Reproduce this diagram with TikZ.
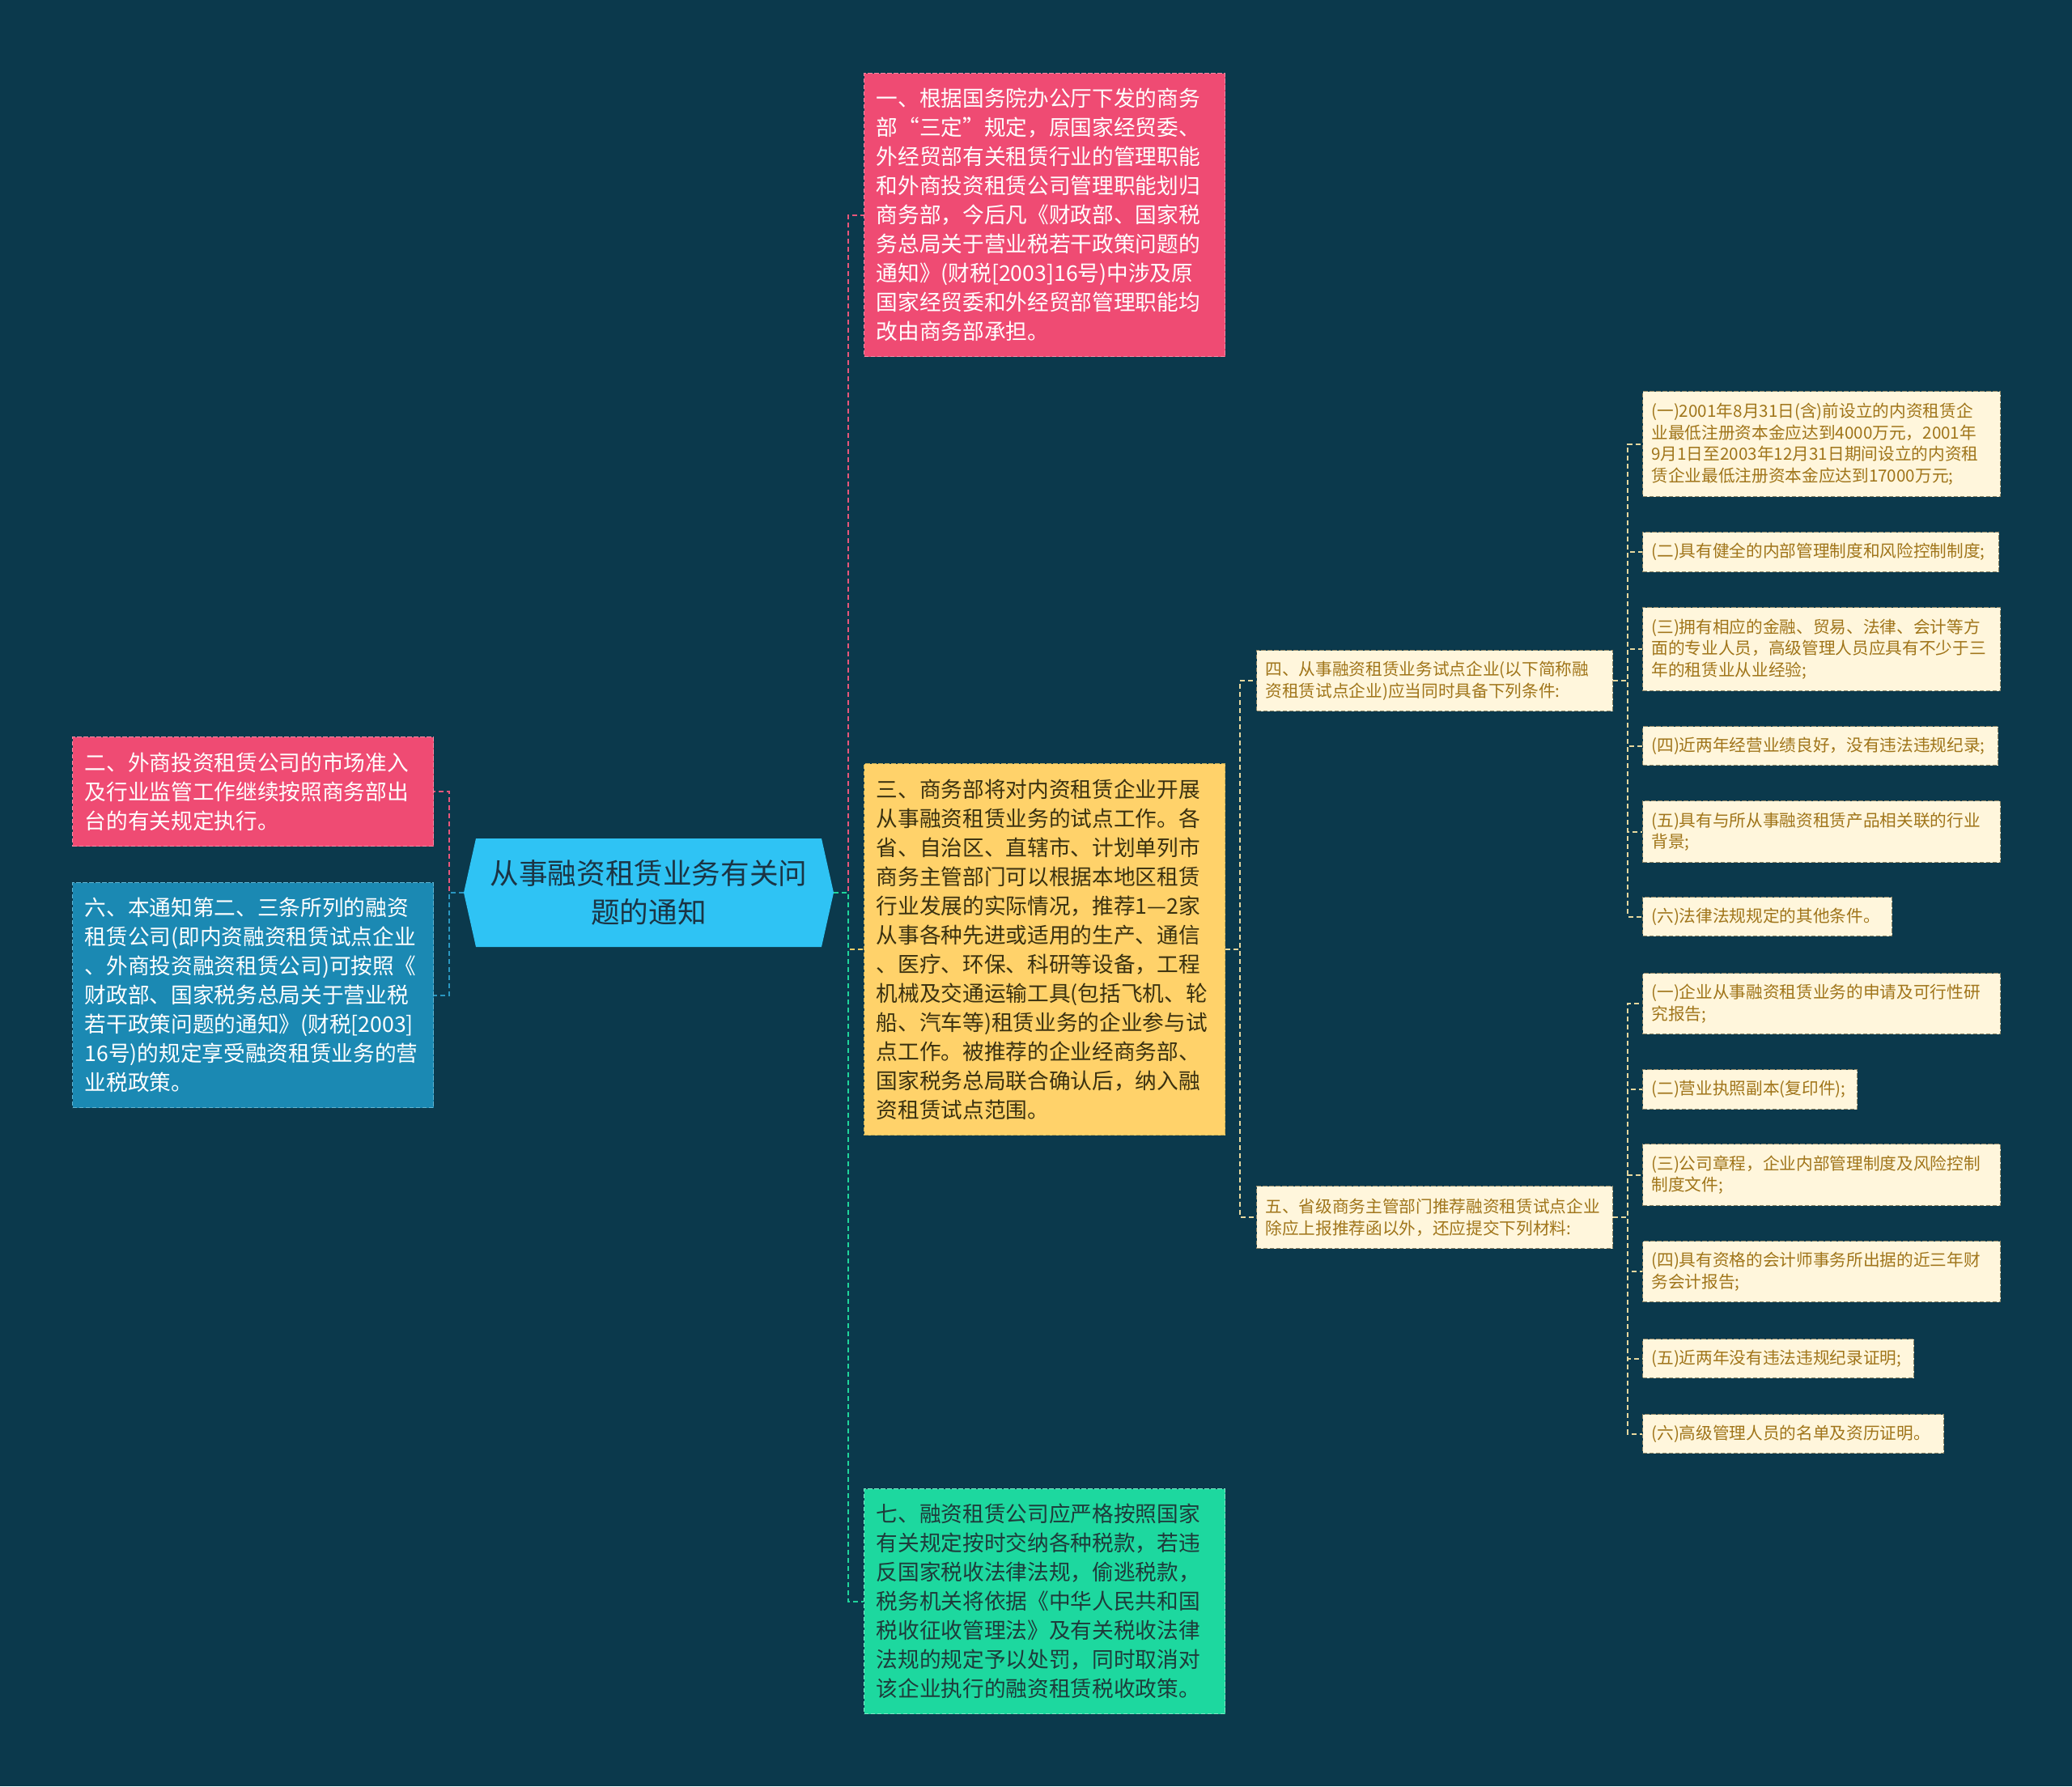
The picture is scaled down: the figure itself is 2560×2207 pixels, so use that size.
\documentclass[tikz,border=0pt]{standalone}
\usepackage{fontspec}
\setmainfont{Noto Sans CJK SC}
\newfontfamily\cjk{Noto Sans CJK SC}
\definecolor{bgc}{HTML}{0B394C}
\definecolor{pinkc}{HTML}{EF4B73}
\definecolor{pinkb}{HTML}{F68AA4}
\definecolor{bluec}{HTML}{1B89B3}
\definecolor{blueb}{HTML}{5DB4D3}
\definecolor{yelc}{HTML}{FFD26A}
\definecolor{yelb}{HTML}{C9AE55}
\definecolor{yeltext}{HTML}{3A3110}
\definecolor{grnc}{HTML}{1DD89F}
\definecolor{grnb}{HTML}{7FE8C6}
\definecolor{grntext}{HTML}{1E3B3A}
\definecolor{rootc}{HTML}{2FC3F4}
\definecolor{roottext}{HTML}{1B3444}
\definecolor{leafc}{HTML}{FFF6DC}
\definecolor{leafb}{HTML}{8E8566}
\definecolor{leaftext}{HTML}{A0751A}
\definecolor{pinkline}{HTML}{E8567A}
\definecolor{yelline}{HTML}{F2CC66}
\definecolor{grnline}{HTML}{1FD59B}
\definecolor{blueline}{HTML}{2A97C0}
\definecolor{leafline}{HTML}{E6D79E}
\tikzset{
  bx/.style={rectangle, draw, dash pattern=on 4pt off 2pt, line width=1pt, anchor=north west, align=left, inner ysep=2pt},
  big/.style={bx, font=\cjk\fontsize{20}{27}\selectfont, inner xsep=11.25pt},
  small/.style={bx, font=\cjk\fontsize{15.5}{20}\selectfont, inner xsep=8pt, fill=leafc, draw=leafb, text=leaftext},
  pinkbox/.style={big, fill=pinkc, draw=pinkb, text=white},
  bluebox/.style={big, fill=bluec, draw=blueb, text=white},
  yelbox/.style={big, fill=yelc, draw=yelb, text=yeltext},
  grnbox/.style={big, fill=grnc, draw=grnb, text=grntext},
  conn/.style={line width=1.5pt, dash pattern=on 4.5pt off 3pt},
  rootnode/.style={align=center, text=roottext, font=\cjk\fontsize{26.7}{36}\selectfont, inner sep=0pt}
}
\begin{document}
\begin{tikzpicture}[x=0.75pt,y=-0.75pt]
\fill[bgc] (0,0) rectangle (2560,2207);
\useasboundingbox (0,0) rectangle (2560,2207);

% root
\fill[rootc] (588,1036) -- (1015,1036) -- (1030,1103) -- (1015,1170) -- (588,1170) -- (573,1103) -- cycle;
\coordinate (rootL) at (573,1103);
\coordinate (rootR) at (1030,1103);
\node[rootnode] (root) at (801.5,1103) {从事融资租赁业务有关问\\题的通知};

% main branches
\node[pinkbox, minimum width=334.5pt, minimum height=262.5pt, text width=312pt] (n1) at (1067,90) {一、根据国务院办公厅下发的商务\\部“三定”规定，原国家经贸委、\\外经贸部有关租赁行业的管理职能\\和外商投资租赁公司管理职能划归\\商务部，今后凡《财政部、国家税\\务总局关于营业税若干政策问题的\\通知》(财税[2003]16号)中涉及原\\国家经贸委和外经贸部管理职能均\\改由商务部承担。};

\node[pinkbox, minimum width=334.5pt, minimum height=101.25pt, text width=312pt] (n2) at (89,910) {二、外商投资租赁公司的市场准入\\及行业监管工作继续按照商务部出\\台的有关规定执行。};

\node[bluebox, minimum width=334.5pt, minimum height=208.5pt, text width=312pt] (n6) at (89,1090) {六、本通知第二、三条所列的融资\\租赁公司(即内资融资租赁试点企业\\、外商投资融资租赁公司)可按照《\\财政部、国家税务总局关于营业税\\若干政策问题的通知》(财税[2003]\\16号)的规定享受融资租赁业务的营\\业税政策。};

\node[yelbox, minimum width=334.5pt, minimum height=344.25pt, text width=312pt] (n3) at (1067,943) {三、商务部将对内资租赁企业开展\\从事融资租赁业务的试点工作。各\\省、自治区、直辖市、计划单列市\\商务主管部门可以根据本地区租赁\\行业发展的实际情况，推荐1—2家\\从事各种先进或适用的生产、通信\\、医疗、环保、科研等设备，工程\\机械及交通运输工具(包括飞机、轮\\船、汽车等)租赁业务的企业参与试\\点工作。被推荐的企业经商务部、\\国家税务总局联合确认后，纳入融\\资租赁试点范围。};

\node[grnbox, minimum width=334.5pt, minimum height=208.5pt, text width=312pt] (n7) at (1067,1839) {七、融资租赁公司应严格按照国家\\有关规定按时交纳各种税款，若违\\反国家税收法律法规，偷逃税款，\\税务机关将依据《中华人民共和国\\税收征收管理法》及有关税收法律\\法规的规定予以处罚，同时取消对\\该企业执行的融资租赁税收政策。};

% second level
\node[small, minimum width=330pt, minimum height=56.25pt, text width=314pt] (n4) at (1552,803) {四、从事融资租赁业务试点企业(以下简称融\\资租赁试点企业)应当同时具备下列条件:};
\node[small, minimum width=330pt, minimum height=57.75pt, text width=314pt] (n5) at (1552,1465) {五、省级商务主管部门推荐融资租赁试点企业\\除应上报推荐函以外，还应提交下列材料:};

% leaves of 四
\node[small, minimum width=331.5pt, minimum height=97.5pt, text width=315.5pt] (c1) at (2029,483) {(一)2001年8月31日(含)前设立的内资租赁企\\业最低注册资本金应达到4000万元，2001年\\9月1日至2003年12月31日期间设立的内资租\\赁企业最低注册资本金应达到17000万元;};
\node[small, minimum width=330pt, minimum height=36.75pt, text width=314pt] (c2) at (2029,657) {(二)具有健全的内部管理制度和风险控制制度;};
\node[small, minimum width=331.5pt, minimum height=77.25pt, text width=315.5pt] (c3) at (2029,750) {(三)拥有相应的金融、贸易、法律、会计等方\\面的专业人员，高级管理人员应具有不少于三\\年的租赁业从业经验;};
\node[small, minimum width=329.25pt, minimum height=36pt, text width=313.25pt] (c4) at (2029,897) {(四)近两年经营业绩良好，没有违法违规纪录;};
\node[small, minimum width=331.5pt, minimum height=57pt, text width=315.5pt] (c5) at (2029,989) {(五)具有与所从事融资租赁产品相关联的行业\\背景;};
\node[small, minimum width=231pt, minimum height=36pt, text width=215pt] (c6) at (2029,1108) {(六)法律法规规定的其他条件。};

% leaves of 五
\node[small, minimum width=331.5pt, minimum height=56.25pt, text width=315.5pt] (m1) at (2029,1202) {(一)企业从事融资租赁业务的申请及可行性研\\究报告;};
\node[small, minimum width=198.75pt, minimum height=36.75pt, text width=182.75pt] (m2) at (2029,1321) {(二)营业执照副本(复印件);};
\node[small, minimum width=331.5pt, minimum height=57pt, text width=315.5pt] (m3) at (2029,1413) {(三)公司章程，企业内部管理制度及风险控制\\制度文件;};
\node[small, minimum width=331.5pt, minimum height=56.25pt, text width=315.5pt] (m4) at (2029,1533) {(四)具有资格的会计师事务所出据的近三年财\\务会计报告;};
\node[small, minimum width=251.25pt, minimum height=36pt, text width=235.25pt] (m5) at (2029,1654) {(五)近两年没有违法违规纪录证明;};
\node[small, minimum width=279pt, minimum height=36pt, text width=263pt] (m6) at (2029,1747) {(六)高级管理人员的名单及资历证明。};

% connectors
\draw[conn, pinkline] (rootR) -- ++(18,0) |- (n1.west);
\draw[conn, yelline] (rootR) -- ++(18,0) |- (n3.west);
\draw[conn, grnline] (rootR) -- ++(18,0) |- (n7.west);
\draw[conn, pinkline] (rootL) -- ++(-18,0) |- (n2.east);
\draw[conn, blueline] (rootL) -- ++(-18,0) |- (n6.east);
\draw[conn, leafline] (n3.east) -- ++(18,0) |- (n4.west);
\draw[conn, leafline] (n3.east) -- ++(18,0) |- (n5.west);
\foreach \c in {c1,c2,c3,c4,c5,c6}
  \draw[conn, leafline] (n4.east) -- ++(18,0) |- (\c.west);
\foreach \m in {m1,m2,m3,m4,m5,m6}
  \draw[conn, leafline] (n5.east) -- ++(18,0) |- (\m.west);
\end{tikzpicture}
\end{document}
